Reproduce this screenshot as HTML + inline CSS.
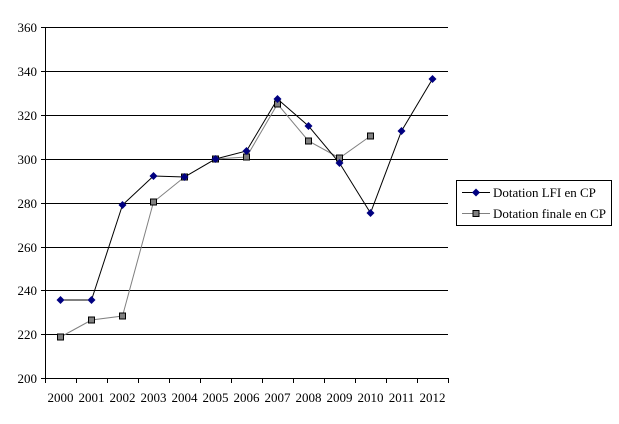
<!DOCTYPE html>
<html><head><meta charset="utf-8"><style>
html,body{margin:0;padding:0;background:#fff;}
svg{display:block;font-family:"Liberation Serif",serif;}
</style></head><body>
<svg width="619" height="424" viewBox="0 0 619 424" xmlns="http://www.w3.org/2000/svg">
<g stroke="#000" stroke-width="1">
<line x1="45" y1="27.5" x2="448" y2="27.5"/>
<line x1="45" y1="71.5" x2="448" y2="71.5"/>
<line x1="45" y1="115.5" x2="448" y2="115.5"/>
<line x1="45" y1="159.5" x2="448" y2="159.5"/>
<line x1="45" y1="203.5" x2="448" y2="203.5"/>
<line x1="45" y1="247.5" x2="448" y2="247.5"/>
<line x1="45" y1="290.5" x2="448" y2="290.5"/>
<line x1="45" y1="334.5" x2="448" y2="334.5"/>
<line x1="45" y1="378.5" x2="448" y2="378.5"/>
<line x1="45.5" y1="27" x2="45.5" y2="378"/>
</g>
<g stroke="#000">
<line x1="41" y1="27.5" x2="45" y2="27.5"/><line x1="41" y1="71.5" x2="45" y2="71.5"/><line x1="41" y1="115.5" x2="45" y2="115.5"/><line x1="41" y1="159.5" x2="45" y2="159.5"/><line x1="41" y1="203.5" x2="45" y2="203.5"/><line x1="41" y1="247.5" x2="45" y2="247.5"/><line x1="41" y1="290.5" x2="45" y2="290.5"/><line x1="41" y1="334.5" x2="45" y2="334.5"/><line x1="41" y1="378.5" x2="45" y2="378.5"/>
<line x1="76.5" y1="378" x2="76.5" y2="383"/><line x1="107.5" y1="378" x2="107.5" y2="383"/><line x1="138.5" y1="378" x2="138.5" y2="383"/><line x1="169.5" y1="378" x2="169.5" y2="383"/><line x1="200.5" y1="378" x2="200.5" y2="383"/><line x1="231.5" y1="378" x2="231.5" y2="383"/><line x1="262.5" y1="378" x2="262.5" y2="383"/><line x1="293.5" y1="378" x2="293.5" y2="383"/><line x1="324.5" y1="378" x2="324.5" y2="383"/><line x1="355.5" y1="378" x2="355.5" y2="383"/><line x1="386.5" y1="378" x2="386.5" y2="383"/><line x1="417.5" y1="378" x2="417.5" y2="383"/><line x1="448.5" y1="378" x2="448.5" y2="383"/><line x1="45.5" y1="378" x2="45.5" y2="383"/>
</g>
<g font-size="13" fill="#000" text-anchor="end">
<text x="37" y="32">360</text><text x="37" y="76">340</text><text x="37" y="120">320</text><text x="37" y="164">300</text><text x="37" y="208">280</text><text x="37" y="252">260</text><text x="37" y="295">240</text><text x="37" y="339">220</text><text x="37" y="383">200</text>
</g>
<g font-size="13" fill="#000" text-anchor="middle">
<text x="60.5" y="402">2000</text><text x="91.5" y="402">2001</text><text x="122.5" y="402">2002</text><text x="153.5" y="402">2003</text><text x="184.5" y="402">2004</text><text x="215.5" y="402">2005</text><text x="246.5" y="402">2006</text><text x="277.5" y="402">2007</text><text x="308.5" y="402">2008</text><text x="339.5" y="402">2009</text><text x="370.5" y="402">2010</text><text x="401.5" y="402">2011</text><text x="432.5" y="402">2012</text>
</g>
<polyline fill="none" stroke="#808080" stroke-width="1" points="60.5,337 91.5,320 122.5,316 153.5,202 184.5,177 215.5,159 246.5,157 277.5,104 308.5,141 339.5,158 370.5,136"/>
<polyline fill="none" stroke="#000" stroke-width="1" points="60.5,300 91.5,300 122.5,205 153.5,176 184.5,177 215.5,159 246.5,151 277.5,99 308.5,126 339.5,163 370.5,213 401.5,131 432.5,79"/>
<g fill="#808080" stroke="#000" stroke-width="1">
<rect x="57.5" y="334" width="6" height="6"/><rect x="88.5" y="317" width="6" height="6"/><rect x="119.5" y="313" width="6" height="6"/><rect x="150.5" y="199" width="6" height="6"/><rect x="181.5" y="174" width="6" height="6"/><rect x="212.5" y="156" width="6" height="6"/><rect x="243.5" y="154" width="6" height="6"/><rect x="274.5" y="101" width="6" height="6"/><rect x="305.5" y="138" width="6" height="6"/><rect x="336.5" y="155" width="6" height="6"/><rect x="367.5" y="133" width="6" height="6"/>
</g>
<g fill="#000080">
<path d="M60.5,296l4,4l-4,4l-4,-4z"/><path d="M91.5,296l4,4l-4,4l-4,-4z"/><path d="M122.5,201l4,4l-4,4l-4,-4z"/><path d="M153.5,172l4,4l-4,4l-4,-4z"/><path d="M184.5,173l4,4l-4,4l-4,-4z"/><path d="M215.5,155l4,4l-4,4l-4,-4z"/><path d="M246.5,147l4,4l-4,4l-4,-4z"/><path d="M277.5,95l4,4l-4,4l-4,-4z"/><path d="M308.5,122l4,4l-4,4l-4,-4z"/><path d="M339.5,159l4,4l-4,4l-4,-4z"/><path d="M370.5,209l4,4l-4,4l-4,-4z"/><path d="M401.5,127l4,4l-4,4l-4,-4z"/><path d="M432.5,75l4,4l-4,4l-4,-4z"/>
</g>
<rect x="456.5" y="180.5" width="155" height="45" fill="#fff" stroke="#000"/>
<line x1="462" y1="192.5" x2="490" y2="192.5" stroke="#000"/>
<path d="M476,188.5l4,4l-4,4l-4,-4z" fill="#000080"/>
<line x1="462" y1="213.5" x2="490" y2="213.5" stroke="#808080"/>
<rect x="473" y="210.5" width="6" height="6" fill="#808080" stroke="#000"/>
<g font-size="13" fill="#000"><text x="493" y="197">Dotation LFI en CP</text><text x="493" y="218">Dotation finale en CP</text></g>
</svg>
</body></html>
